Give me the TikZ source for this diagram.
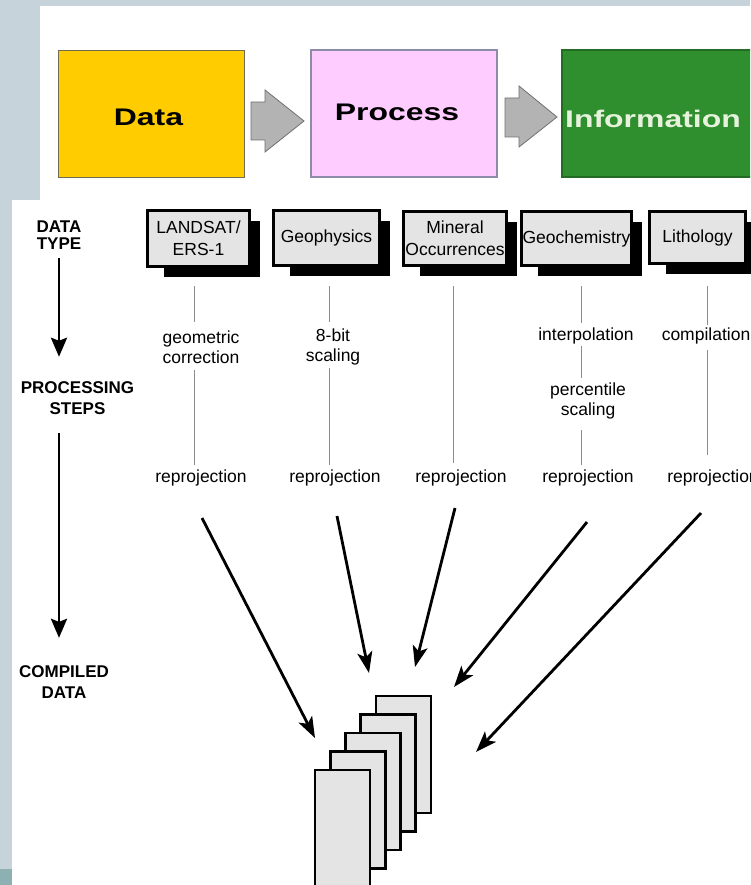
\documentclass[tikz,border=0pt]{standalone}
\usepackage{fontspec}
\setmainfont{Liberation Sans}
\usetikzlibrary{arrows.meta,calc,backgrounds}

\definecolor{slate}{HTML}{C7D3DA}
\definecolor{tealcorner}{HTML}{8DB0B2}
\definecolor{datafill}{HTML}{FFCC00}
\definecolor{dataedge}{HTML}{6E6E4E}
\definecolor{procfill}{HTML}{FFCCFF}
\definecolor{procedge}{HTML}{8C8CA8}
\definecolor{infofill}{HTML}{2F8F2F}
\definecolor{infoedge}{HTML}{246B24}
\definecolor{infotext}{HTML}{E6F2DC}
\definecolor{blockarrow}{HTML}{B3B3B3}
\definecolor{blockedge}{HTML}{707070}
\definecolor{paper}{HTML}{E4E4E4}
\definecolor{thinline}{HTML}{8C8C8C}

\tikzset{
  topbox/.style={line width=1.5pt, minimum width=186pt, minimum height=127pt,
    inner sep=0pt, font=\fontsize{24}{28}\selectfont\bfseries},
  blockarr/.style={fill=blockarrow, draw=blockedge, line width=0.8pt},
  typebox/.style={draw=black, line width=2.6pt, fill=paper, inner sep=1pt,
    align=center, font=\fontsize{17.5}{22}\selectfont},
  steplabel/.style={inner sep=0pt, align=center, font=\fontsize{17.5}{20}\selectfont},
  axislabel/.style={inner sep=0pt, align=center},
  axisarrow/.style={line width=2.8pt, -{Stealth[length=19pt,width=16pt,inset=3pt]}},
  stepline/.style={draw=thinline, line width=1pt},
  bigarrow/.style={line width=2.8pt, -{Stealth[length=21pt,width=15pt,inset=5pt]}},
  sheet/.style={draw=black, line width=2.6pt, fill=paper},
  shadowfill/.style={fill=black}
}

\begin{document}
\begin{tikzpicture}[x=1pt,y=-1pt]
\useasboundingbox (0,0) rectangle (750,885);
\clip (0,0) rectangle (750,885);

% backdrop panels
\begin{pgfonlayer}{background}
  \fill[slate] (0,0) rectangle (750,885);
  \fill[white] (40,6) rectangle (750,200);
  \fill[white] (12,200) rectangle (750,885);
  \fill[tealcorner] (0,869) rectangle (12,885);
\end{pgfonlayer}

% ---- Data -> Process -> Information ----
\node[topbox, draw=dataedge, fill=datafill, text height=24pt, text depth=0pt]
  (data) at (151.5,114) {\scalebox{1.33}[1]{Data}\hspace*{6pt}};
\node[topbox, draw=procedge, fill=procfill, text height=15pt, text depth=0pt]
  (process) at (404,113.5) {\scalebox{1.33}[1]{Process}\hspace*{14pt}};
\node[topbox, draw=infoedge, fill=infofill, text=infotext, minimum width=200pt,
  text height=29pt, text depth=0pt]
  (info) at (662,113.5) {\scalebox{1.33}[1]{Information}\hspace*{18pt}};

\draw[blockarr] (251,102) -- (265,102) -- (265,90) -- (304,121) -- (265,152)
  -- (265,140) -- (251,140) -- cycle;
\draw[blockarr] (505,98) -- (519,98) -- (519,86) -- (557,117) -- (519,147)
  -- (519,137) -- (505,137) -- cycle;

% ---- left axis ----
\coordinate (ax) at (59,0);
\node[axislabel, font=\fontsize{17}{16.5}\selectfont\bfseries]
  (dtype) at (59,235) {DATA\\TYPE};
\node[axislabel, font=\fontsize{17}{21}\selectfont\bfseries]
  (psteps) at (77.5,398.5) {PROCESSING\\STEPS};
\node[axislabel, font=\fontsize{17}{21}\selectfont\bfseries]
  (cdata) at (64,682.5) {COMPILED\\DATA};
\draw[axisarrow, shorten <=9pt, shorten >=25pt] (dtype.south -| ax) -- (psteps.north -| ax);
\draw[axisarrow, shorten <=18pt, shorten >=28pt] (psteps.south -| ax) -- (cdata.north -| ax);

% ---- data type boxes ----
\node[typebox, minimum width=102pt, minimum height=56pt] (b1) at (198.5,238.5) {LANDSAT/\\ERS-1};
\node[typebox, minimum width=106pt, minimum height=55pt] (b2) at (326.5,238) {Geophysics};
\node[typebox, minimum width=103pt, minimum height=54pt] (b3) at (455,238.5) {Mineral\\Occurrences};
\node[typebox, minimum width=110pt, minimum height=54pt, inner sep=0pt] (b4) at (576.5,238.5) {Geochemistry};
\node[typebox, minimum width=96pt, minimum height=52pt] (b5) at (697.5,237.5) {Lithology};

\begin{pgfonlayer}{background}
  \foreach \b in {b1,b2,b3,b4,b5}
    \fill[shadowfill] ($(\b.north west)+(18,12)$) rectangle ($(\b.south east)+(9,9)$);
\end{pgfonlayer}

% ---- processing steps ----
\node[steplabel] (g1)  at (201,349) {geometric\strut\\correction\strut};
\node[steplabel] (r1)  at (201,478) {reprojection\strut};
\node[steplabel] (g2)  at (333,347) {8-bit\strut\\scaling\strut};
\node[steplabel] (r2)  at (335,478) {reprojection\strut};
\node[steplabel] (r3)  at (461,478) {reprojection\strut};
\node[steplabel] (g4a) at (586,336) {interpolation\strut};
\node[steplabel] (g4b) at (588,401) {percentile\strut\\scaling\strut};
\node[steplabel] (r4)  at (588,478) {reprojection\strut};
\node[steplabel] (g5)  at (706,336) {compilation\strut};
\node[steplabel] (r5)  at (713,478) {reprojection\strut};

\coordinate (c1) at (194,0);
\coordinate (c2) at (329,0);
\coordinate (c3) at (453,0);
\coordinate (c4) at (581,0);
\coordinate (c5) at (707,0);

\draw[stepline, shorten <=18.5pt, shorten >=7pt] (b1.south -| c1) -- (g1.north -| c1);
\draw[stepline, shorten <=1pt, shorten >=3pt] (g1.south -| c1) -- (r1.north -| c1);
\draw[stepline, shorten <=19.5pt, shorten >=5pt] (b2.south -| c2) -- (g2.north -| c2);
\draw[stepline, shorten <=1pt, shorten >=3pt] (g2.south -| c2) -- (r2.north -| c2);
\draw[stepline, shorten <=19.5pt, shorten >=5pt] (b3.south -| c3) -- (r3.north -| c3);
\draw[stepline, shorten <=19.5pt, shorten >=3pt] (b4.south -| c4) -- (g4a.north -| c4);
\draw[stepline, shorten >=3pt] (g4a.south -| c4) -- (g4b.north -| c4);
\draw[stepline, shorten <=9pt, shorten >=3pt] (g4b.south -| c4) -- (r4.north -| c4);
\draw[stepline, shorten <=21.5pt, shorten >=1pt] (b5.south -| c5) -- (g5.north -| c5);
\draw[stepline, shorten <=4pt, shorten >=13pt] (g5.south -| c5) -- (r5.north -| c5);

% ---- compiled data stack ----
\foreach \k in {4,3,2,1,0}
  \draw[sheet] ({315+15.25*\k},{770-18.5*\k}) rectangle ++(55,117);

% ---- arrows into the stack ----
\coordinate (s1) at (202,518); \coordinate (t1) at (315,738);
\coordinate (s2) at (337,516); \coordinate (t2) at (369,673);
\coordinate (s3) at (455,508); \coordinate (t3) at (415,667);
\coordinate (s4) at (587,522); \coordinate (t4) at (454,687);
\coordinate (s5) at (701,513); \coordinate (t5) at (476,752);
\foreach \i in {1,...,5}
  \draw[bigarrow] (s\i) -- (t\i);
\end{tikzpicture}
\end{document}
